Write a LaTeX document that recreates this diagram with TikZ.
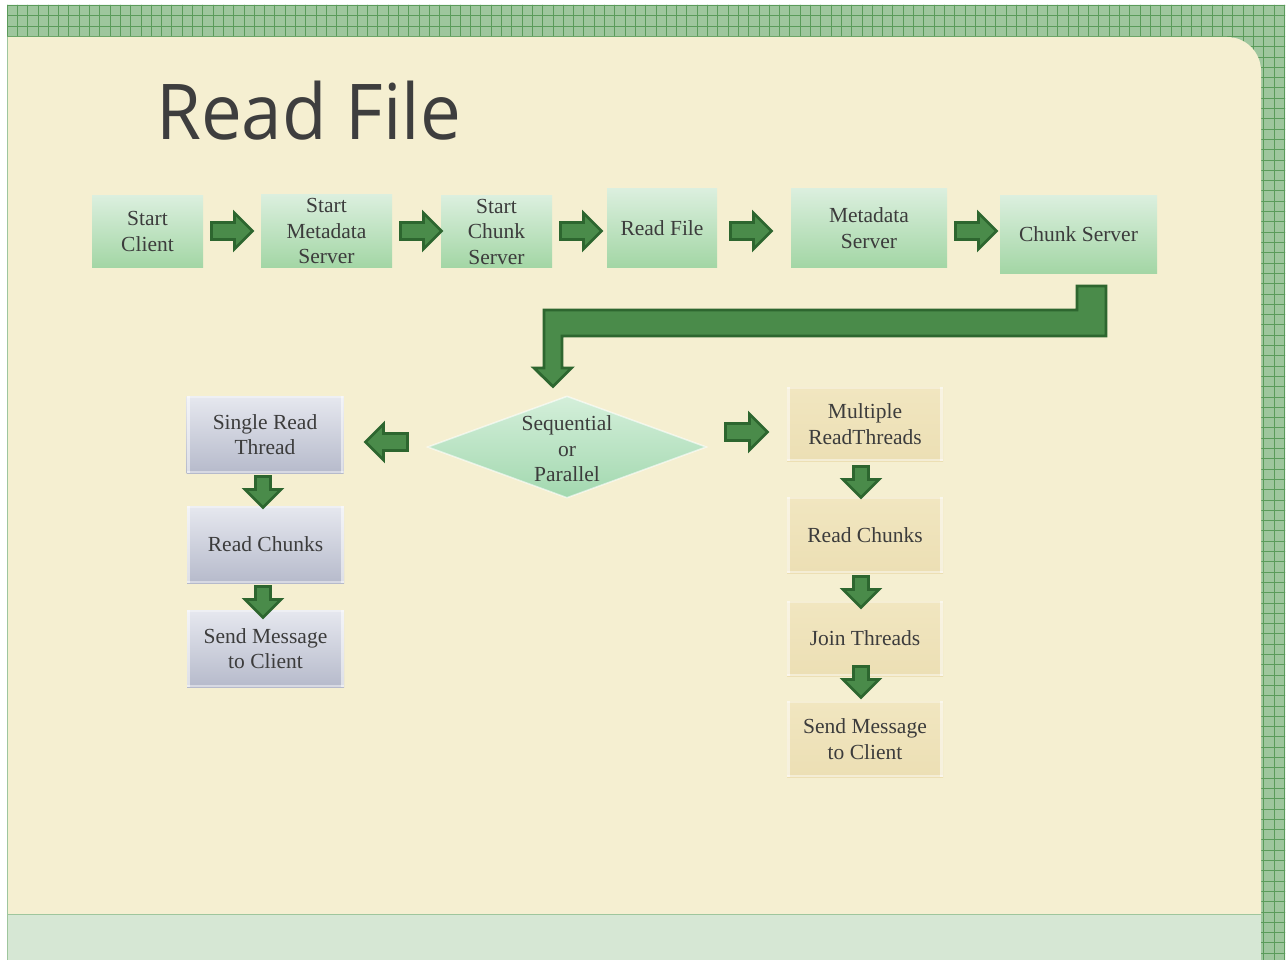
\documentclass[tikz,border=0pt]{standalone}
\usepackage{fontspec}
\setmainfont{Liberation Serif}
\newfontfamily\titlefont[FakeStretch=0.945]{Open Sans}
\usetikzlibrary{shapes.geometric}
\definecolor{cream}{HTML}{F5EFD1}
\definecolor{gridbase}{HTML}{9EC69D}
\definecolor{gridline}{HTML}{5A9B5A}
\definecolor{paleband}{HTML}{D6E7D4}
\definecolor{txtgray}{HTML}{3C3C3C}
\definecolor{titlegray}{HTML}{3E3E3E}
\definecolor{gtop}{HTML}{DBEFDE}
\definecolor{gbot}{HTML}{A3D6A5}
\definecolor{btop}{HTML}{E6E8EF}
\definecolor{bbot}{HTML}{B6BACB}
\definecolor{ytop}{HTML}{F1E6C0}
\definecolor{ybot}{HTML}{ECDFB4}
\definecolor{dtop}{HTML}{D4EFDA}
\definecolor{dbot}{HTML}{A2D8AF}
\definecolor{arrfill}{HTML}{4A8B4A}
\definecolor{arrdraw}{HTML}{2D662F}
\tikzset{
  boxtext/.style={text=txtgray, font=\fontsize{21.5}{25.5}\selectfont, align=center, inner sep=0pt},
  greenbox/.style={boxtext, rectangle, top color=gtop, bottom color=gbot},
  bevel/.style={path picture={
    \fill[white,opacity=.55] (path picture bounding box.north west) rectangle ([xshift=3pt]path picture bounding box.south west);
    \fill[white,opacity=.55] (path picture bounding box.north east) rectangle ([xshift=-3pt]path picture bounding box.south east);
    \fill[white,opacity=.35] (path picture bounding box.north west) rectangle ([yshift=-2pt]path picture bounding box.north east);
    \fill[white,opacity=.45] (path picture bounding box.south west) rectangle ([yshift=2pt]path picture bounding box.south east);
  }},
  bluebox/.style={boxtext, rectangle, top color=btop, bottom color=bbot, bevel, minimum width=157pt, minimum height=77pt},
  sandbox/.style={boxtext, rectangle, top color=ytop, bottom color=ybot, bevel, minimum width=156pt},
  blkarr/.style={fill=arrfill, draw=arrdraw, line width=2.8pt, line join=miter},
}
% #1 x, #2 y, #3 angle, #4 half length, #5 head length, #6 shaft half width, #7 head half width
\newcommand\blkarrow[7]{%
  \draw[blkarr, shift={(#1,#2)}, rotate=#3]
    (-#4,-#6) -- ({#4-#5},-#6) -- ({#4-#5},-#7) -- (#4,0) -- ({#4-#5},#7) -- ({#4-#5},#6) -- (-#4,#6) -- cycle;}
\begin{document}
\begin{tikzpicture}[x=1pt,y=-1pt]
\useasboundingbox (0,0) rectangle (1287,960);
\fill[white] (0,0) rectangle (1287,960);
% grid bands
\begin{scope}
  \clip (7,5) rectangle (1285,37) (1261,37) rectangle (1285,960) (1220,30) rectangle (1262,75);
  \fill[gridbase] (0,0) rectangle (1287,960);
  \foreach \i in {0,...,125} \draw[gridline, line width=0.8pt] ({7+\i*10.3},0) -- ++(0,960);
  \foreach \j in {0,...,93} \draw[gridline, line width=0.8pt] (0,{5.5+\j*10.3}) -- ++(1287,0);
\end{scope}
\fill[paleband] (7,914) rectangle (1261,960);
\fill[cream] (7,914) -- (7,37) -- (1227,37) .. controls (1245.8,37) and (1261,52.2) .. (1261,71) -- (1261,914) -- cycle;
\draw[gridbase, line width=0.8pt] (7,37) -- (7,960);
\draw[gridbase, line width=0.8pt] (7,914) -- (1261,914);

% title
\node[anchor=base west, font=\titlefont\fontsize{77}{77}\selectfont, text=titlegray, inner sep=0pt] (title) at (156,140) {Read File};

% top row
\node[greenbox, minimum width=111pt, minimum height=71pt] (sc)  at (147.5,231.5) {Start\\Client};
\node[greenbox, minimum width=131pt, minimum height=72pt] (sms) at (326.5,231) {Start\\Metadata\\Server};
\node[greenbox, minimum width=111pt, minimum height=71pt] (scs) at (496.5,231.5) {Start\\Chunk\\Server};
\node[greenbox, minimum width=110pt, minimum height=78pt] (rf)  at (662,228) {Read File};
\node[greenbox, minimum width=156pt, minimum height=78pt] (ms)  at (869,228) {Metadata\\Server};
\node[greenbox, minimum width=157pt, minimum height=77pt] (cs)  at (1078.5,234.5) {Chunk Server};

\blkarrow{232}{231}{0}{20.5}{18}{8.5}{18}
\blkarrow{421}{231}{0}{20.5}{18}{8.5}{18}
\blkarrow{581}{231}{0}{20.5}{18}{8.5}{18}
\blkarrow{751}{231}{0}{20.5}{18}{8.5}{18}
\blkarrow{976}{231}{0}{20.5}{18}{8.5}{18}

% bent arrow
\draw[blkarr] (1106,286) -- (1106,336) -- (562,336) -- (562,368) -- (571.5,368) -- (553,386.5) -- (534,368) -- (544,368) -- (544,310) -- (1077,310) -- (1077,286) -- cycle;

% decision
\node[diamond, aspect=2.735, minimum width=279pt, minimum height=102pt, inner sep=0pt, top color=dtop, bottom color=dbot, draw=white, draw opacity=.6, line width=1.5pt] (dec) at (567,447) {};
\node[boxtext] (dectext) at (567,449) {Sequential\\or\\Parallel};

\blkarrow{746.5}{432}{0}{21}{18}{8.5}{18}
\blkarrow{386.5}{442}{180}{21}{18}{8.5}{18}

% left column
\node[bluebox] (srt) at (265,434.5) {Single Read\\Thread};
\node[bluebox] (rc1) at (265.5,544.5) {Read Chunks};
\node[bluebox] (sm1) at (265.5,648.5) {Send Message\\to Client};
\blkarrow{263}{492}{-90}{15.5}{18}{7.5}{18}
\blkarrow{263}{602}{-90}{15.5}{18}{7.5}{18}

% right column
\node[sandbox, minimum height=74pt] (mrt) at (865,424) {Multiple\\ReadThreads};
\node[sandbox, minimum height=76pt] (rc2) at (865,535) {Read Chunks};
\node[sandbox, minimum height=75pt] (jt)  at (865,638.5) {Join Threads};
\node[sandbox, minimum height=76pt] (sm2) at (865,739) {Send Message\\to Client};
\blkarrow{861}{482}{-90}{15.5}{18}{7.5}{18}
\blkarrow{861}{592}{-90}{15.5}{18}{7.5}{18}
\blkarrow{861}{682}{-90}{15.5}{18}{7.5}{18}
\end{tikzpicture}
\end{document}
